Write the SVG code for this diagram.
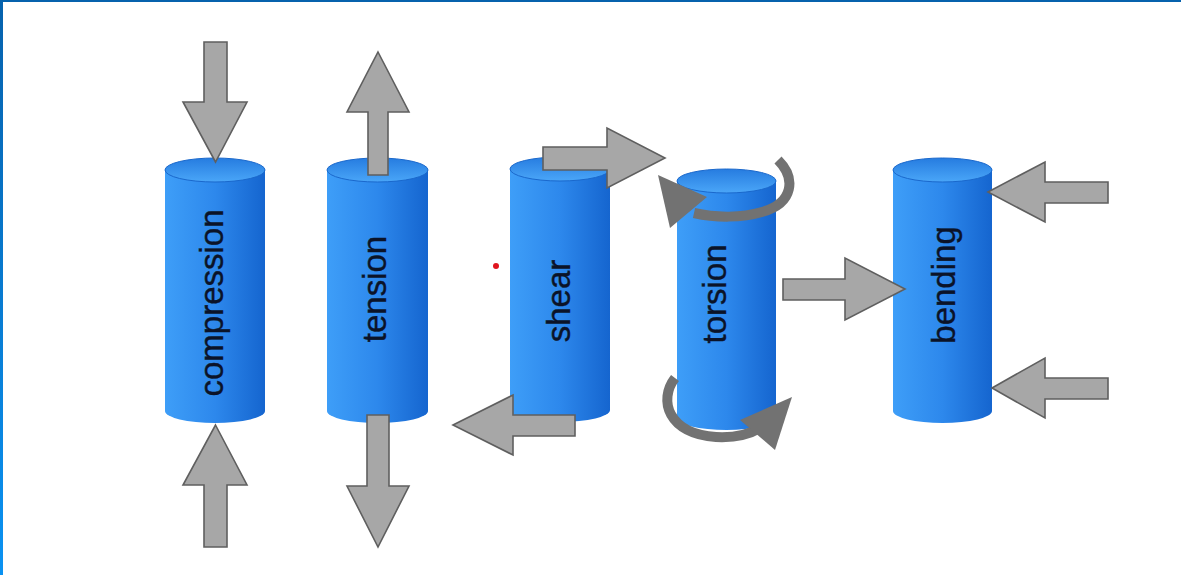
<svg xmlns="http://www.w3.org/2000/svg" width="1181" height="575" viewBox="0 0 1181 575">
  <defs>
    <linearGradient id="body" x1="0" y1="0" x2="1" y2="0">
      <stop offset="0" stop-color="#3e9ef8"/>
      <stop offset="0.5" stop-color="#2d88ec"/>
      <stop offset="1" stop-color="#1565cf"/>
    </linearGradient>
    <linearGradient id="cap" x1="0" y1="0" x2="0" y2="1">
      <stop offset="0" stop-color="#267ce0"/>
      <stop offset="1" stop-color="#4aa6f8"/>
    </linearGradient>
    <linearGradient id="edge" x1="0" y1="0" x2="0" y2="1">
      <stop offset="0" stop-color="#0662ad"/>
      <stop offset="1" stop-color="#0a92f2"/>
    </linearGradient>
    <style>
      .arrow { fill: #a7a7a7; stroke: #5f5f5f; stroke-width: 1.6; stroke-linejoin: miter; }
      .twist { fill: none; stroke: #727272; stroke-width: 10; stroke-linecap: butt; }
      .twist-head { fill: #727272; }
      .label { font-family: "Liberation Sans", Arial, sans-serif; font-size: 33px; fill: #0b1328; stroke: #0b1328; stroke-width: 0.4; text-anchor: middle; }
      .cap { fill: url(#cap); stroke: #1a68cc; stroke-width: 1; }
      .body { fill: url(#body); }
    </style>
  </defs>

  <!-- frame -->
  <rect x="0" y="0" width="1181" height="575" fill="#ffffff"/>
  <rect x="0" y="0" width="1181" height="2" fill="#0662ad"/>
  <rect x="0" y="0" width="3" height="575" fill="url(#edge)"/>

  <!-- compression -->
  <g id="compression">
    <path class="body" d="M165 170 V411 A50 12 0 0 0 265 411 V170 Z"/>
    <ellipse class="cap" cx="215" cy="170" rx="50" ry="12"/>
    <text class="label" transform="translate(223 303) rotate(-90)">compression</text>
  </g>

  <!-- tension -->
  <g id="tension">
    <path class="body" d="M327 170 V411 A50.5 12 0 0 0 428 411 V170 Z"/>
    <ellipse class="cap" cx="377.5" cy="170" rx="50.5" ry="12"/>
    <text class="label" transform="translate(386 289) rotate(-90)">tension</text>
  </g>

  <!-- shear -->
  <g id="shear">
    <path class="body" d="M510 169 V410 A50 12 0 0 0 610 410 V169 Z"/>
    <ellipse class="cap" cx="560" cy="169" rx="50" ry="12"/>
    <text class="label" transform="translate(570 301) rotate(-90)">shear</text>
  </g>

  <!-- torsion -->
  <g id="torsion">
    <path class="body" d="M677 181 V418 A49.5 12 0 0 0 776 418 V181 Z"/>
    <ellipse class="cap" cx="726.5" cy="181" rx="49.5" ry="12"/>
    <text class="label" transform="translate(726 294) rotate(-90)">torsion</text>
  </g>

  <!-- bending -->
  <g id="bending">
    <path class="body" d="M893 170 V411 A49.5 12 0 0 0 992 411 V170 Z"/>
    <ellipse class="cap" cx="942.5" cy="170" rx="49.5" ry="12"/>
    <text class="label" transform="translate(955 285) rotate(-90)">bending</text>
  </g>

  <!-- marker dot -->
  <circle cx="496" cy="266" r="3" fill="#e0141e"/>

  <!-- force arrows -->
  <g id="connectors">
    <!-- compression -->
    <path class="arrow" d="M204 42 H227 V102 H247 L215.5 162 L183 102 H204 Z"/>
    <path class="arrow" d="M215.5 425 L247 485 H227 V547 H204 V485 H183 Z"/>
    <!-- tension -->
    <path class="arrow" d="M378 52 L409 112 H388 V175 H368 V112 H347 Z"/>
    <path class="arrow" d="M367 415 H389 V486 H409 L378 547 L347 486 H367 Z"/>
    <!-- shear -->
    <path class="arrow" d="M543 147 H607 V128 L665 158 L607 188 V170 H543 Z"/>
    <path class="arrow" d="M453 425 L513 395 V415 H575 V436 H513 V455 Z"/>
    <!-- torsion twist -->
    <path class="twist" d="M778 160 C796 178 794 203 762 212 C742 218 716 218 694 213"/>
    <path class="twist-head" d="M658 175 L707 197 L670 228 Z"/>
    <path class="twist" d="M675 378 C658 400 668 434 716 437 C736 438 750 434 760 428"/>
    <path class="twist-head" d="M792 397 L775 450 L740 420 Z"/>
    <!-- bending -->
    <path class="arrow" d="M783 279 H845 V258 L905 289 L845 320 V300 H783 Z"/>
    <path class="arrow" d="M988 192 L1045 162 V182 H1108 V203 H1045 V222 Z"/>
    <path class="arrow" d="M992 388 L1045 358 V378 H1108 V399 H1045 V418 Z"/>
  </g>
</svg>
